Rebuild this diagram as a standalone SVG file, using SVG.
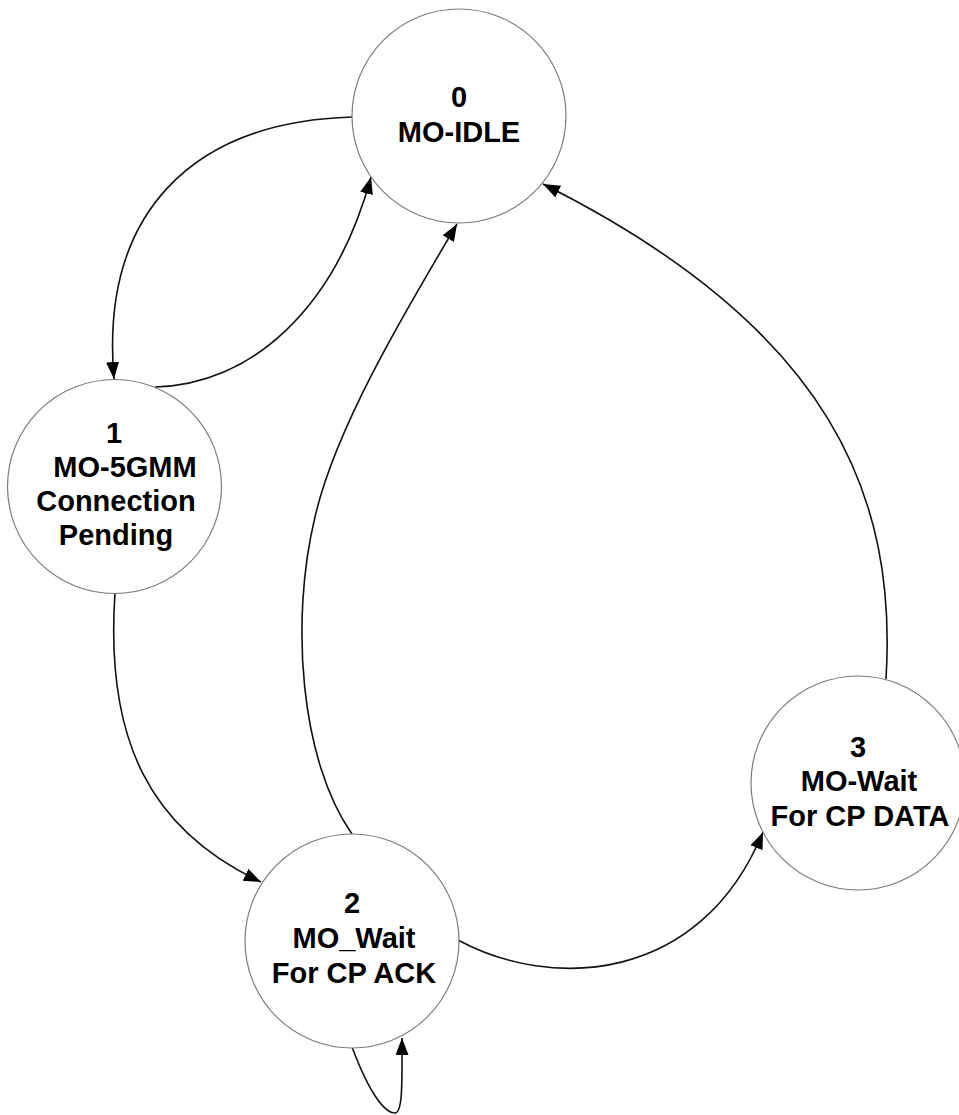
<svg xmlns="http://www.w3.org/2000/svg" width="959" height="1115" viewBox="0 0 959 1115">
<style>
.st{fill:#fff;stroke:#7a7a7a;stroke-width:1.2}
.lb{font-family:"Liberation Sans",Arial,sans-serif;font-weight:bold;font-size:29px;fill:#000;text-anchor:middle}
.ed{fill:none;stroke:#111;stroke-width:1.6;marker-end:url(#ah)}
</style>
<defs>
<marker id="ah" markerUnits="userSpaceOnUse" markerWidth="17" markerHeight="13" viewBox="0 0 17 13" refX="17" refY="6.5" orient="auto">
<path d="M0,0 L17,6.5 L0,13 Z" fill="#000"/>
</marker>
</defs>
<rect width="959" height="1115" fill="#fff"/>
<g id="connectors">
<path class="ed" d="M352,117 C190,122 100,215 114,379"/>
<path class="ed" d="M155,387 C250,385 335,310 371,177"/>
<path class="ed" d="M352,834 C300,760 290,620 315,517 C335,430 400,320 457,224"/>
<path class="ed" d="M886,679 C897,500 835,330 543,184"/>
<path class="ed" d="M115,593 C105,740 150,830 261,882"/>
<path class="ed" d="M458,940 C550,990 700,985 763,832"/>
<path class="ed" d="M352,1047 C370,1095 385,1113 395,1113 C403,1113 402,1080 402,1038"/>
</g>
<g id="node0">
<circle class="st" cx="459" cy="116" r="107"/>
<text class="lb" x="459" y="107">0</text>
<text class="lb" x="459" y="142">MO-IDLE</text>
</g>
<g id="node1">
<circle class="st" cx="114.5" cy="486.5" r="107"/>
<text class="lb" x="114" y="443">1</text>
<text class="lb" x="125" y="477">MO-5GMM</text>
<text class="lb" x="116" y="511">Connection</text>
<text class="lb" x="116" y="545">Pending</text>
</g>
<g id="node2">
<circle class="st" cx="352" cy="941" r="107"/>
<text class="lb" x="352" y="913">2</text>
<text class="lb" x="354" y="948">MO_Wait</text>
<text class="lb" x="354" y="983">For CP ACK</text>
</g>
<g id="node3">
<circle class="st" cx="858" cy="783" r="107"/>
<text class="lb" x="858" y="757">3</text>
<text class="lb" x="859" y="791">MO-Wait</text>
<text class="lb" x="860" y="826">For CP DATA</text>
</g>
</svg>
